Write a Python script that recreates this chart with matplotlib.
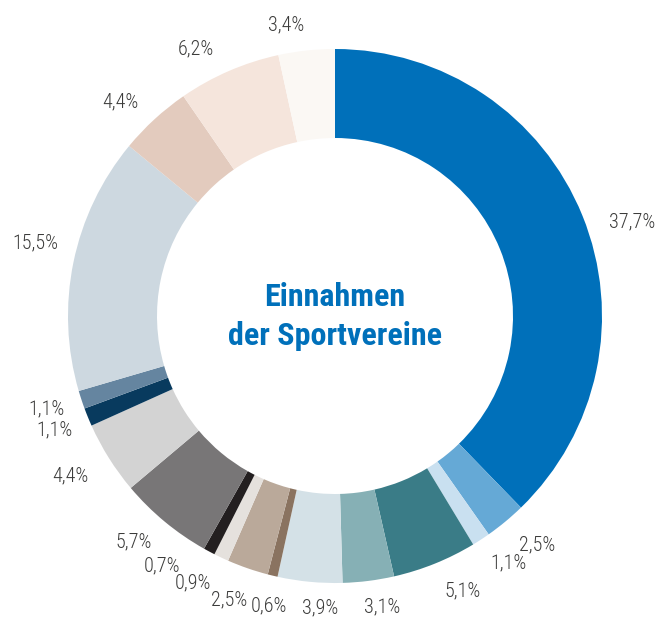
import matplotlib
matplotlib.use("Agg")
import matplotlib.pyplot as plt
from matplotlib import font_manager
import numpy as np

# ---- data ----
values = [37.7, 2.5, 1.1, 5.1, 3.1, 3.9, 0.6, 2.5, 0.9, 0.7, 5.7, 4.4, 1.1, 1.1, 15.5, 4.4, 6.2, 3.4]
labels = ["37,7%", "2,5%", "1,1%", "5,1%", "3,1%", "3,9%", "0,6%", "2,5%", "0,9%", "0,7%",
          "5,7%", "4,4%", "1,1%", "1,1%", "15,5%", "4,4%", "6,2%", "3,4%"]
colors = ["#0070BA", "#65A9D6", "#C9E0F0", "#3A7C87", "#86B0B5", "#D4E1E7", "#8A7360", "#BAA99A",
          "#E5E1DD", "#231F20", "#787677", "#D3D3D3", "#083A5E", "#6585A0", "#CDD8E0", "#E3CBBE",
          "#F5E5DC", "#FBF8F4"]
title_lines = ["Einnahmen", "der Sportvereine"]

# ---- layout tweaks for labels (angle shift in degrees, radial distance) ----
label_shift = [-4.5, 1.9, 1.9, 2.9, 2.0, 2.5, 0.7, -1.4, -2.8, -6.5, -2.1, -1.0, -0.2, -0.4, -2.0, 2.6, 4.1, 3.4]
label_rad = [1.167, 1.143, 1.131, 1.136, 1.105, 1.095, 1.113, 1.134, 1.134, 1.139, 1.135, 1.158,
             1.134, 1.135, 1.155, 1.136, 1.127, 1.106]

avail = {f.name for f in font_manager.fontManager.ttflist}
fam = "DejaVu Sans"
for cand in ["Roboto Condensed", "Archivo Narrow", "Liberation Sans Narrow", "PT Sans Narrow", "Barlow Semi Condensed"]:
    if cand in avail:
        fam = cand
        break

W, H, DPI = 655, 617, 100
fig = plt.figure(figsize=(W / DPI, H / DPI), dpi=DPI)
ax = fig.add_axes([0, 0, 1, 1])
cx, cy, R = 335, 316, 267.0

ax.pie(values, colors=colors, startangle=90, counterclock=False, radius=1,
       wedgeprops=dict(width=1 - 178 / 267, linewidth=0, antialiased=True))
ax.set_xlim(-cx / R, (W - cx) / R)
ax.set_ylim(-(H - cy) / R, cy / R)
ax.set_aspect("equal")
ax.axis("off")

cum = np.cumsum([0] + values[:-1])
total = sum(values)
for i, (v, lab) in enumerate(zip(values, labels)):
    mid = 90 - (cum[i] + v / 2) / total * 360 + label_shift[i]
    a = np.deg2rad(mid)
    r = label_rad[i]
    ax.text(r * np.cos(a), r * np.sin(a), lab, ha="center", va="center",
            fontsize=14.5, fontweight="light", color="#3C3C3B", family=[fam, "DejaVu Sans"])

ax.text(0, (316 - 297) / R, title_lines[0], ha="center", va="center", fontsize=23,
        fontweight="bold", color="#0070BA", family=[fam, "DejaVu Sans"])
ax.text(0, (316 - 336) / R, title_lines[1], ha="center", va="center", fontsize=23,
        fontweight="bold", color="#0070BA", family=[fam, "DejaVu Sans"])

fig.savefig("out.png", dpi=DPI, facecolor="white")
